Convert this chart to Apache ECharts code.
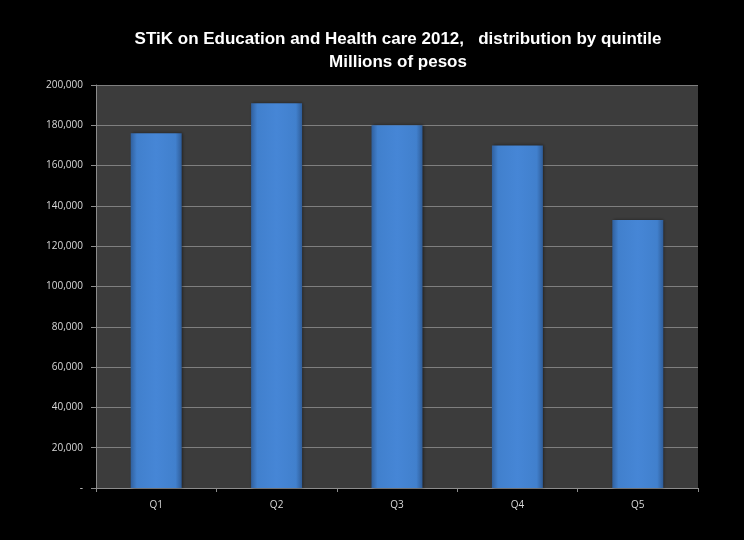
<!DOCTYPE html>
<html><head><meta charset="utf-8">
<script src="https://cdn.jsdelivr.net/npm/echarts@6/dist/echarts.min.js"></script>
<style>html,body{margin:0;padding:0;background:#000;}#c{width:744px;height:540px;}</style>
</head><body><div id="c"></div>
<script>
const categories = ['Q1','Q2','Q3','Q4','Q5'];
const values = [176000, 191000, 180000, 170000, 133000];
const titleLines = ['STiK on Education and Health care 2012,   distribution by quintile', 'Millions of pesos'];

const chart = echarts.init(document.getElementById('c'));
const fontFam = '"Liberation Sans", sans-serif';
chart.setOption({
  backgroundColor: '#000000',
  animation: false,
  title: {
    text: titleLines.join('\n'),
    left: 393, top: 23, textAlign: 'center',
    textStyle: { color: '#ffffff', fontSize: 17, fontWeight: 'bold', fontFamily: fontFam, lineHeight: 23 }
  },
  grid: { left: 96, right: 46, top: 85, bottom: 52, show: true, backgroundColor: '#3c3c3c', borderWidth: 0 },
  xAxis: {
    type: 'category', data: categories,
    axisLine: { lineStyle: { color: '#8c8c8c', width: 1 } },
    axisTick: { show: true, alignWithLabel: false, length: 4, lineStyle: { color: '#8c8c8c' } },
    axisLabel: { color: '#d9d9d9', fontSize: 10, fontFamily: '"Open Sans", sans-serif', margin: 12 }
  },
  yAxis: {
    type: 'value', min: 0, max: 200000, interval: 20000,
    axisLine: { show: true, lineStyle: { color: '#8c8c8c', width: 1 } },
    axisTick: { show: true, length: 5, lineStyle: { color: '#8c8c8c' } },
    splitLine: { lineStyle: { color: '#7f7f7f', width: 1 } },
    axisLabel: {
      color: '#d9d9d9', fontSize: 10, fontFamily: '"Open Sans", sans-serif', margin: 13,
      formatter: v => v === 0 ? '-' : v.toLocaleString('en-US')
    }
  },
  series: [{
    type: 'bar', data: values, barWidth: 51,
    itemStyle: {
      color: new echarts.graphic.LinearGradient(0, 0, 1, 0, [
        { offset: 0, color: '#30609e' },
        { offset: 0.12, color: '#4180cd' },
        { offset: 0.5, color: '#4686d6' },
        { offset: 0.88, color: '#4180cd' },
        { offset: 1, color: '#2f5d99' }
      ]),
      shadowColor: 'rgba(0,0,0,0.5)', shadowBlur: 3, shadowOffsetX: 1
    }
  }]
});
</script></body></html>
